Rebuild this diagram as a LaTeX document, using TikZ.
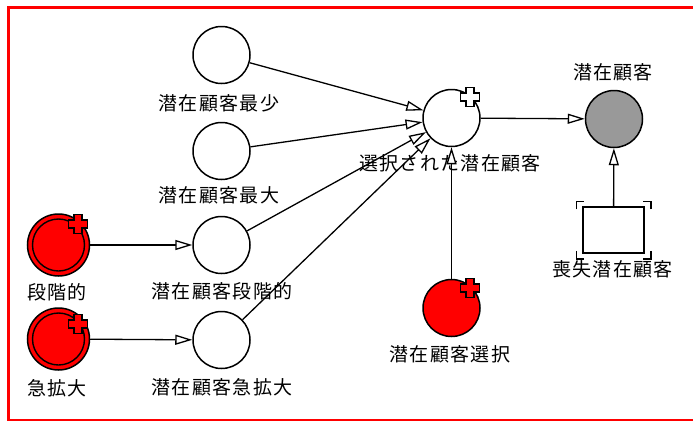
\documentclass[tikz,border=0pt]{standalone}
\usepackage{fontspec}
\newfontfamily\jp[LetterSpace=7]{Noto Sans CJK JP}
\usetikzlibrary{arrows.meta}
\definecolor{stockgray}{RGB}{153,153,153}
\tikzset{
  lvl/.style={circle, draw, line width=1.5pt, minimum size=57pt, inner sep=0pt, fill=white},
  redc/.style={circle, draw, line width=1.5pt, minimum size=62pt, inner sep=0pt, fill=red},
  lbl/.style={font=\jp\fontsize{19}{21}\selectfont, inner sep=0pt},
  flow/.style={line width=1.3pt, -{Triangle[open, length=17pt, width=10pt, fill=white]}},
  pics/plusmark/.style={code={
    \draw[line width=1.4pt, fill=#1] (-4,-9.5) -- (4,-9.5) -- (4,-4) -- (9.5,-4) -- (9.5,4) -- (4,4) -- (4,9.5) -- (-4,9.5) -- (-4,4) -- (-9.5,4) -- (-9.5,-4) -- (-4,-4) -- cycle;}}
}
\begin{document}
\begin{tikzpicture}[x=1pt, y=-1pt]
\useasboundingbox (0,0) rectangle (693,421);
\clip (0,0) rectangle (693,421);
\fill[white] (0,0) rectangle (693,421);
\draw[red, line width=2.6pt] (8.3,7.5) rectangle (720,420);

% auxiliaries
\node[lvl] (min) at (221.5,55) {};
\node[lvl] (max) at (221.5,151) {};
\node[lvl] (stg) at (221.5,245) {};
\node[lvl] (rap) at (221.5,340) {};
\node[lvl] (sel) at (451.5,118) {};
\node[lvl, fill=stockgray] (pc) at (614,119) {};
\node[lvl, fill=red] (pcs) at (451.5,308) {};
\node[redc] (rstg) at (58.5,245) {};
\node[redc] (rrap) at (58.5,339) {};
\node[circle, draw, line width=1.4pt, minimum size=52pt, inner sep=0pt] (rstgi) at (rstg) {};
\node[circle, draw, line width=1.4pt, minimum size=52pt, inner sep=0pt] (rrapi) at (rrap) {};
\node[draw, line width=1.5pt, minimum width=61pt, minimum height=46pt, inner sep=0pt] (lost) at (613.5,230) {};

% brackets of the box
\draw[line width=1.5pt] ([shift={(-6,3)}]lost.north west) -- ++(0,-8) -- ++(8,0);
\draw[line width=1.5pt] ([shift={(6,3)}]lost.north east) -- ++(0,-8) -- ++(-8,0);
\draw[line width=1.5pt] ([shift={(-6,-3)}]lost.south west) -- ++(0,8) -- ++(8,0);
\draw[line width=1.5pt] ([shift={(6,-3)}]lost.south east) -- ++(0,8) -- ++(-8,0);

% plus marks
\pic at (470,97) {plusmark=white};
\pic at (470,288) {plusmark=red};
\pic at (78,224) {plusmark=red};
\pic at (78,324) {plusmark=red};

% labels
\node[lbl] (lmin) at (219,103) {潜在顧客最少};
\node[lbl] (lmax) at (219,195) {潜在顧客最大};
\node[lbl] (lstg) at (222,291) {潜在顧客段階的};
\node[lbl] (lrap) at (222,387) {潜在顧客急拡大};
\node[lbl] (lrstg) at (57,292) {段階的};
\node[lbl] (lrrap) at (57,388) {急拡大};
\node[lbl] (lsel) at (450,163) {選択された潜在顧客};
\node[lbl] (lpc) at (613,72) {潜在顧客};
\node[lbl] (llost) at (612.5,269) {喪失潜在顧客};
\node[lbl] (lpcs) at (450,354) {潜在顧客選択};

% connectors
\draw[flow] (min) -- (sel);
\draw[flow] (max) -- (sel);
\draw[flow] (stg) -- (sel);
\draw[flow] (rap) -- (sel);
\draw[flow] (sel) -- (pc);
\draw[flow] (pcs) -- (sel);
\draw[flow] (lost) -- (pc);
\draw[flow] (rstg) -- (stg);
\draw[flow] (rrap) -- (rap);
\end{tikzpicture}
\end{document}
